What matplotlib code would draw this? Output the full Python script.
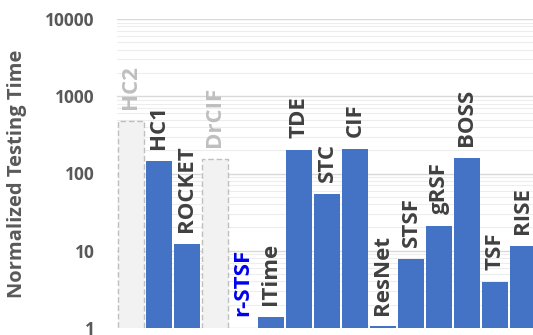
import matplotlib
matplotlib.use("Agg")
import matplotlib.pyplot as plt
from matplotlib.ticker import LogLocator, NullFormatter, FixedLocator, FixedFormatter

# normalized testing time per classifier (r-STSF = 1)
methods = ["HC2", "HC1", "ROCKET", "DrCIF", "r-STSF", "ITime", "TDE", "STC",
           "CIF", "ResNet", "STSF", "gRSF", "BOSS", "TSF", "RISE"]
times = [478, 145, 12.2, 153, 1.0, 1.39, 204, 54, 209, 1.05, 7.9, 21, 160, 3.96, 11.6]
# classifiers shown only as outline (not run to completion)
ghost = ["HC2", "DrCIF"]
highlight = "r-STSF"

yticks = [1, 10, 100, 1000, 10000]
ytick_labels = ["1", "10", "100", "1000", "10000"]

BLUE = "#4472C4"
DARK = "#404040"
GREY_TXT = "#BFBFBF"
AXIS_TXT = "#595959"

plt.rcParams["font.family"] = ["Open Sans", "DejaVu Sans"]

W, H = 533, 335
left, right, top, bottom = 117, 533, 19, 328
fig = plt.figure(figsize=(W / 100, H / 100), dpi=100)
ax = fig.add_axes([left / W, 1 - bottom / H, (right - left) / W, (bottom - top) / H])

for i, (m, v) in enumerate(zip(methods, times)):
    if m in ghost:
        ax.bar(i, v, width=0.92, bottom=1e-3, color="#F2F2F2", edgecolor="#BFBFBF",
               linestyle=(0, (4, 2)), linewidth=1.0, zorder=2)
        col = GREY_TXT
    else:
        ax.bar(i, v, width=0.92, bottom=1e-3, color=BLUE, zorder=2)
        col = "#0000F0" if m == highlight else DARK
    ax.annotate(m, (i, v), xytext=(0, 8.5), textcoords="offset points",
                rotation=90, ha="center", va="bottom", fontsize=16,
                fontweight="bold", color=col, zorder=3)

ax.set_yscale("log")
ax.set_ylim(1, 10000)
# slots are 28 px wide; the last bar runs past the right edge
ax.set_xlim(-0.5, (right - left) / 28 - 0.5)

ax.yaxis.set_major_locator(FixedLocator(yticks))
ax.yaxis.set_major_formatter(FixedFormatter(ytick_labels))
ax.yaxis.set_minor_locator(LogLocator(base=10, subs=range(2, 10)))
ax.yaxis.set_minor_formatter(NullFormatter())
ax.grid(which="major", axis="y", color="#D9D9D9", linewidth=1.0, zorder=0)
ax.grid(which="minor", axis="y", color="#EDEDED", linewidth=0.8, zorder=0)
ax.tick_params(axis="y", which="both", length=0, pad=16, labelsize=12.5,
               labelcolor=AXIS_TXT)
for lbl in ax.get_yticklabels():
    lbl.set_fontweight("bold")
ax.set_xticks([])
for s in ax.spines.values():
    s.set_visible(False)

ax.set_ylabel("Normalized Testing Time", fontsize=14.5, fontweight="bold",
              color=AXIS_TXT, labelpad=13)

fig.savefig("out.png", dpi=100)
